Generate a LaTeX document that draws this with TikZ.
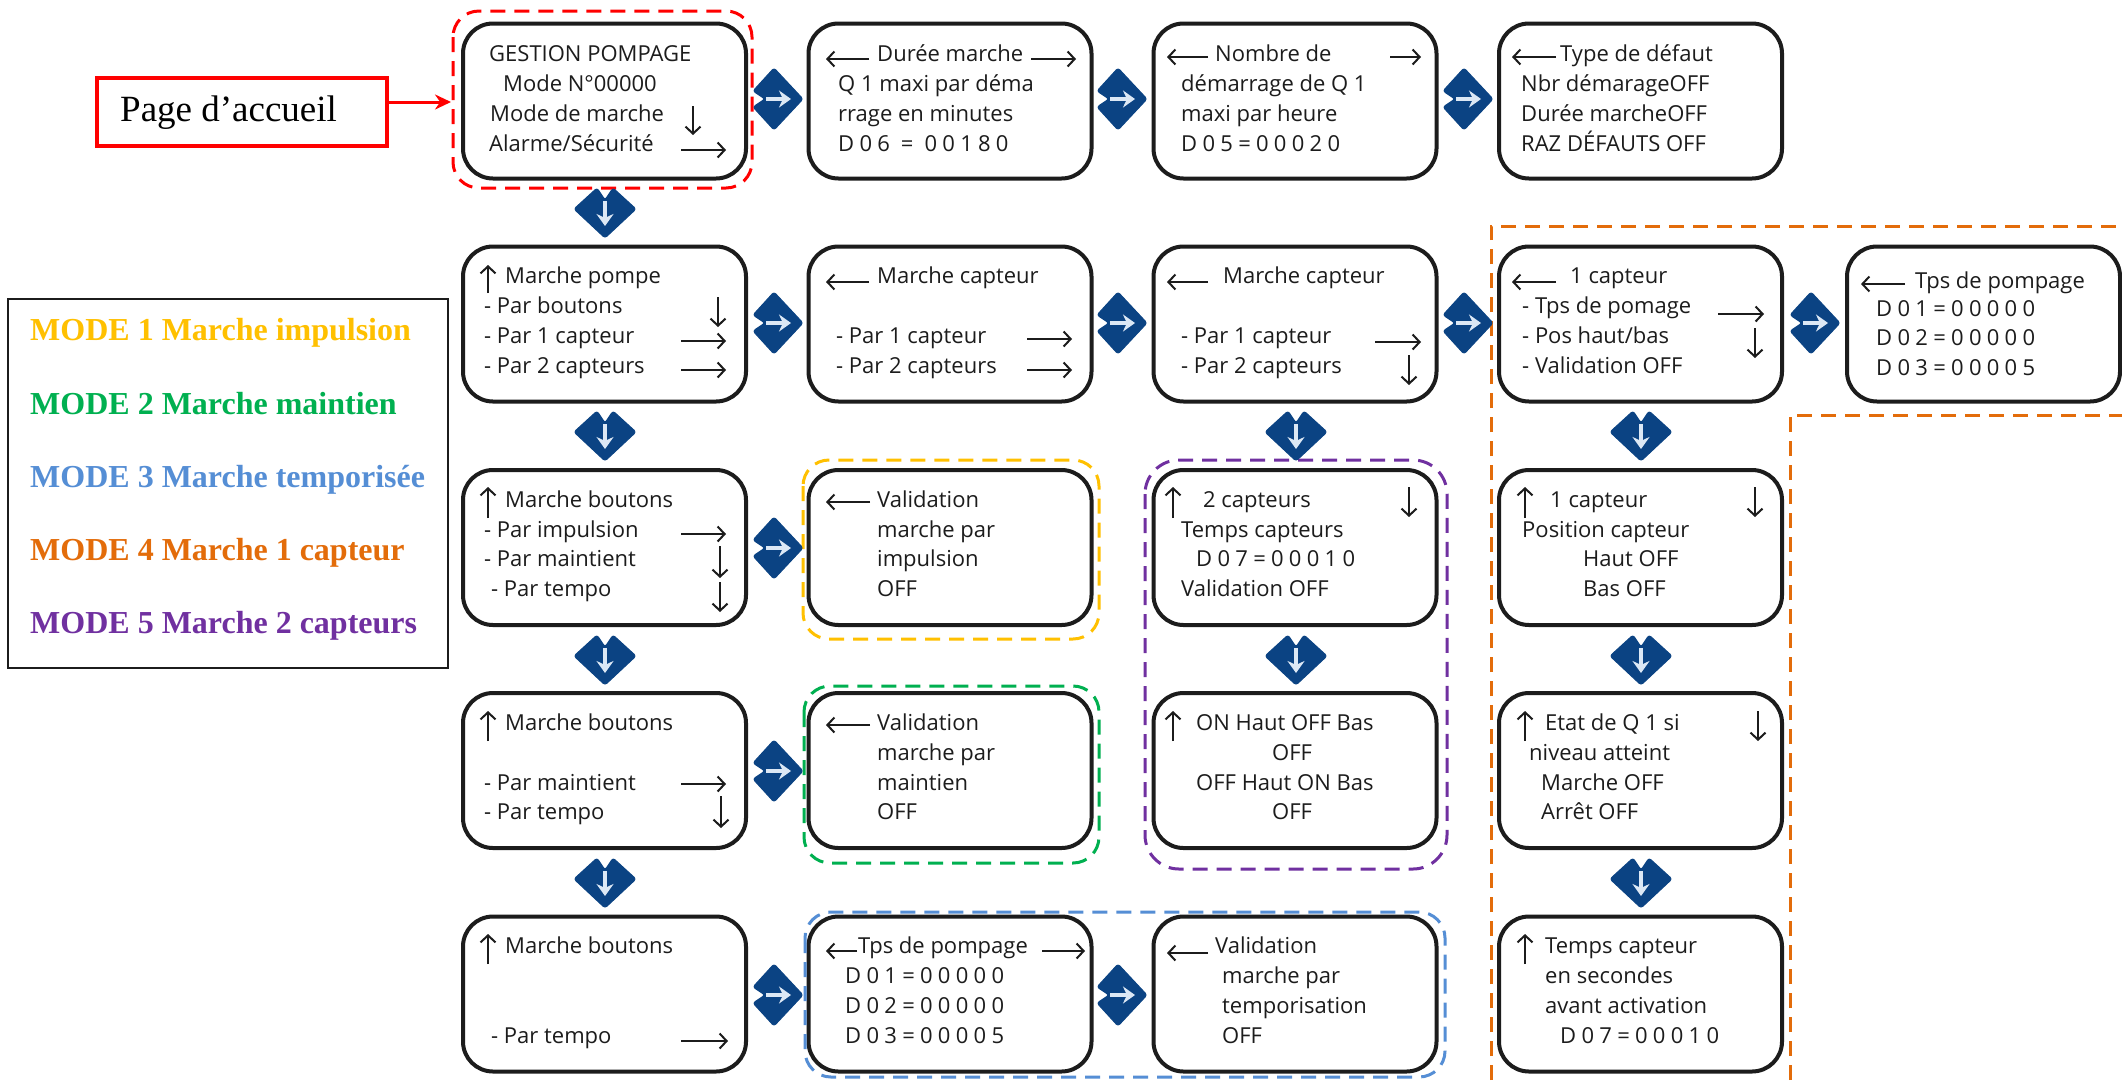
\documentclass[tikz,border=0pt]{standalone}
\usepackage{fontspec}
\setmainfont{Liberation Serif}
\newfontfamily\boxfont{Open Sans}
\newfontfamily\boxspc[LetterSpace=24]{Open Sans}
\usetikzlibrary{arrows.meta}
\definecolor{cred}{HTML}{FF0000}
\definecolor{cyel}{HTML}{FFC000}
\definecolor{cgrn}{HTML}{00B050}
\definecolor{cblu}{HTML}{558ED5}
\definecolor{cora}{HTML}{E36C0A}
\definecolor{cpur}{HTML}{7030A0}
\definecolor{navy}{HTML}{0B4383}
\definecolor{pale}{HTML}{DCE8F5}
\definecolor{ink}{HTML}{1C1C1C}
\newcounter{tlc}
\tikzset{
  screen/.style={draw=ink,line width=4pt,rounded corners=30pt,fill=white,inner sep=0pt,minimum width=283pt,minimum height=155pt},
  txt/.style={anchor=mid west,inner sep=0pt,yshift=-4.5pt,font=\boxfont\fontsize{22}{24}\selectfont,text=ink},
  sp/.style={anchor=mid west,inner sep=0pt,yshift=-4.5pt,font=\boxspc\fontsize{22}{24}\selectfont,text=ink},
  iconarrow/.style={draw=ink,line width=2pt,-{Straight Barb[length=7pt,width=15pt,line width=2pt]}},
  frame/.style={line width=3pt,dash pattern=on 15pt off 9pt,rounded corners=26pt},
  legend/.style={anchor=mid west,inner sep=0pt,yshift=-7pt,font=\bfseries\fontsize{32}{36}\selectfont},
}
\newcommand{\tl}[3]{\stepcounter{tlc}\node[txt] (t\thetlc) at (#1,#2) {#3};}
\newcommand{\ts}[3]{\stepcounter{tlc}\node[sp] (t\thetlc) at (#1,#2) {#3};}
\newcommand{\ar}[4]{\draw[iconarrow] (#1,#2) -- (#3,#4);}
\newcommand{\rdia}[3]{%
  \coordinate (#1) at (#2,#3);
  \fill[navy,draw=navy,line width=1pt,line join=round,rounded corners=2.5pt,shift={(#1)}]
    (-4,-31) -- (25,0) -- (-4,31) -- (-25,8) -- (-13,0) -- (-25,-8) -- cycle;
  \draw[pale,line width=4.5pt,-{Stealth[length=12pt,width=17pt]},shift={(#1)}] (-12,0) -- (13,0);
}
\newcommand{\ddia}[3]{%
  \coordinate (#1) at (#2,#3);
  \fill[navy,draw=navy,line width=1pt,line join=round,rounded corners=2.5pt,shift={(#1)}]
    (-31,-4) -- (0,25) -- (31,-4) -- (8,-25) -- (0,-13) -- (-8,-25) -- cycle;
  \draw[pale,line width=4.5pt,-{Stealth[length=12pt,width=17pt]},shift={(#1)}] (0,-12) -- (0,13);
}
\begin{document}
\begin{tikzpicture}[x=1pt,y=-1pt]
\useasboundingbox (0,0) rectangle (2122,1080);
\fill[white] (0,0) rectangle (2122,1080);

% screens
\foreach \n/\x/\y in {a1/604.5/101,b1/950/101,c1/1295/101,d1/1640.5/101,
  a2/604.5/324,b2/950/324,c2/1295/324,d2/1640.5/324,
  a3/604.5/547.5,b3/950/547.5,c3/1295/547.5,d3/1640.5/547.5,
  a4/604.5/770.5,b4/950/770.5,c4/1295/770.5,d4/1640.5/770.5,
  a5/604.5/994,b5/950/994,c5/1295/994,d5/1640.5/994}
  {\node[screen] (\n) at (\x,\y) {};}
\node[screen,minimum width=273pt] (e2) at (1983.5,324) {};

% dashed frames
\draw[frame,draw=cred] (453,11) rectangle (752,188);
\draw[frame,draw=cyel] (803,460) rectangle (1099,639);
\draw[frame,draw=cgrn] (804,686) rectangle (1099,863);
\draw[frame,draw=cpur,rounded corners=34pt] (1145,460) rectangle (1447,869);
\draw[frame,draw=cblu] (805,912) rectangle (1445,1077);
\draw[line width=3pt,dash pattern=on 15pt off 9pt,draw=cora] (1491,1080) -- (1491,226) -- (2122,226);
\draw[line width=3pt,dash pattern=on 15pt off 9pt,draw=cora] (1790,1080) -- (1790,415) -- (2122,415);

% navigation diamonds
\rdia{ra1}{778}{99}\rdia{ra2}{778}{323}\rdia{ra3}{778}{548}\rdia{ra4}{778}{771}\rdia{ra5}{778}{995}
\rdia{rb1}{1122}{99}\rdia{rb2}{1122}{323}\rdia{rb5}{1122}{995}
\rdia{rc1}{1468}{99}\rdia{rc2}{1468}{323}
\rdia{rd2}{1815}{323}
\ddia{da1}{605}{213}\ddia{da2}{605}{436}\ddia{da3}{605}{660}\ddia{da4}{605}{883}
\ddia{dc2}{1296}{436}\ddia{dc3}{1296}{660}
\ddia{dd2}{1641}{436}\ddia{dd3}{1641}{660}\ddia{dd4}{1641}{883}

% row 1
\tl{489}{55}{GESTION POMPAGE}
\tl{503}{85}{Mode N°00000}
\tl{490}{115}{Mode de marche}
\tl{489}{145}{Alarme/Sécurité}
\ar{693}{106}{693}{135}\ar{681}{150}{726}{150}
\tl{877}{55}{Durée marche}
\tl{838}{85}{Q 1 maxi par déma}
\tl{838}{115}{rrage en minutes}
\ts{838}{145}{D06 = 00180}
\ar{869}{59}{826}{59}\ar{1031}{59}{1076}{59}
\tl{1215}{55}{Nombre de}
\tl{1181}{85}{démarrage de Q 1}
\tl{1181}{115}{maxi par heure}
\ts{1181}{145}{D05=00020}
\ar{1208}{57}{1167}{57}\ar{1390}{57}{1421}{57}
\tl{1560}{55}{Type de défaut}
\tl{1521}{85}{Nbr démarageOFF}
\tl{1521}{115}{Durée marcheOFF}
\tl{1521}{145}{RAZ DÉFAUTS OFF}
\ar{1556}{57}{1512}{57}

% row 2
\tl{505}{277}{Marche pompe}
\tl{484}{307}{- Par boutons}
\tl{484}{337}{- Par 1 capteur}
\tl{484}{367}{- Par 2 capteurs}
\ar{488}{293}{488}{265}\ar{718}{297}{718}{327}\ar{681}{341}{726}{341}\ar{681}{370}{726}{370}
\tl{877}{277}{Marche capteur}
\tl{836}{337}{- Par 1 capteur}
\tl{836}{367}{- Par 2 capteurs}
\ar{869}{282}{826}{282}\ar{1027}{339}{1072}{339}\ar{1027}{370}{1072}{370}
\tl{1223}{277}{Marche capteur}
\tl{1181}{337}{- Par 1 capteur}
\tl{1181}{367}{- Par 2 capteurs}
\ar{1208}{282}{1167}{282}\ar{1375}{342}{1421}{342}\ar{1409}{355}{1409}{385}
\tl{1570}{277}{1 capteur}
\tl{1522}{307}{- Tps de pomage}
\tl{1522}{337}{- Pos haut/bas}
\tl{1522}{367}{- Validation OFF}
\ar{1556}{282}{1512}{282}\ar{1718}{314}{1764}{314}\ar{1755}{328}{1755}{358}
\tl{1915}{282}{Tps de pompage}
\ts{1876}{310}{D01=00000}
\ts{1876}{339}{D02=00000}
\ts{1876}{369}{D03=00005}
\ar{1905}{284}{1861}{284}

% row 3
\tl{505}{501}{Marche boutons}
\tl{484}{531}{- Par impulsion}
\tl{484}{560}{- Par maintient}
\tl{491}{590}{- Par tempo}
\ar{488}{518}{488}{487}\ar{681}{534}{726}{534}\ar{720}{546}{720}{578}\ar{720}{582}{720}{612}
\tl{877}{501}{Validation}
\tl{877}{531}{marche par}
\tl{877}{560}{impulsion}
\tl{877}{590}{OFF}
\ar{870}{502}{826}{502}
\tl{1203}{501}{2 capteurs}
\tl{1181}{531}{Temps capteurs}
\ts{1196}{560}{D07=00010}
\tl{1181}{590}{Validation OFF}
\ar{1173}{518}{1173}{487}\ar{1409}{487}{1409}{517}
\tl{1550}{501}{1 capteur}
\tl{1522}{531}{Position capteur}
\tl{1583}{560}{Haut OFF}
\tl{1583}{590}{Bas OFF}
\ar{1525}{518}{1525}{487}\ar{1755}{487}{1755}{517}

% row 4
\tl{505}{724}{Marche boutons}
\tl{484}{784}{- Par maintient}
\tl{484}{813}{- Par tempo}
\ar{488}{741}{488}{711}\ar{681}{784}{726}{784}\ar{721}{796}{721}{828}
\tl{877}{724}{Validation}
\tl{877}{754}{marche par}
\tl{877}{784}{maintien}
\tl{877}{813}{OFF}
\ar{870}{725}{826}{725}
\tl{1196}{724}{ON Haut OFF Bas}
\tl{1272}{754}{OFF}
\tl{1196}{784}{OFF Haut ON Bas}
\tl{1272}{813}{OFF}
\ar{1173}{741}{1173}{711}
\tl{1545}{724}{Etat de Q 1 si}
\tl{1529}{754}{niveau atteint}
\tl{1541}{784}{Marche OFF}
\tl{1541}{813}{Arrêt OFF}
\ar{1525}{741}{1525}{711}\ar{1758}{711}{1758}{741}

% row 5
\tl{505}{947}{Marche boutons}
\tl{491}{1037}{- Par tempo}
\ar{488}{964}{488}{934}\ar{681}{1041}{728}{1041}
\tl{858}{947}{Tps de pompage}
\ts{845}{977}{D01=00000}
\ts{845}{1007}{D02=00000}
\ts{845}{1037}{D03=00005}
\ar{857}{951}{826}{951}\ar{1042}{951}{1085}{951}
\tl{1215}{947}{Validation}
\tl{1222}{977}{marche par}
\tl{1222}{1007}{temporisation}
\tl{1222}{1037}{OFF}
\ar{1208}{953}{1167}{953}
\tl{1545}{947}{Temps capteur}
\tl{1545}{977}{en secondes}
\tl{1545}{1007}{avant activation}
\ts{1560}{1037}{D07=00010}
\ar{1525}{964}{1525}{934}

% home label
\node[draw=cred,line width=4pt,minimum width=290pt,minimum height=68pt,inner sep=0pt] (home) at (242,112) {};
\node[anchor=mid west,inner sep=0pt,font=\fontsize{37}{40}\selectfont] (homet) at (120,119) {Page d’accueil};
\coordinate (homeend) at (451,102);
\draw[cred,line width=3pt,-{Stealth[length=16pt,width=15pt]}] (home.east |- homeend) -- (homeend);

% legend
\node[draw=ink,line width=1.5pt,minimum width=440pt,minimum height=369pt,inner sep=0pt] (leg) at (228,483.5) {};
\node[legend,text=cyel] (m1) at (30,331) {MODE 1 Marche impulsion};
\node[legend,text=cgrn] (m2) at (30,405) {MODE 2 Marche maintien};
\node[legend,text=cblu] (m3) at (30,478) {MODE 3 Marche temporisée};
\node[legend,text=cora] (m4) at (30,551) {MODE 4 Marche 1 capteur};
\node[legend,text=cpur] (m5) at (30,624) {MODE 5 Marche 2 capteurs};
\end{tikzpicture}
\end{document}
